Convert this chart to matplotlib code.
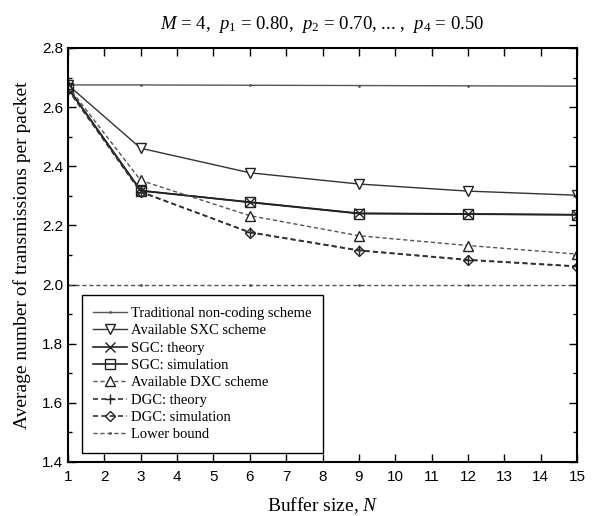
import matplotlib
matplotlib.use('Agg')
import matplotlib.pyplot as plt
from matplotlib.ticker import MultipleLocator

plt.rcParams['mathtext.fontset'] = 'custom'
plt.rcParams['mathtext.rm'] = 'Liberation Serif'
plt.rcParams['mathtext.it'] = 'Liberation Serif:italic'

N = [1, 3, 6, 9, 12, 15]
traditional = [2.675, 2.675, 2.674, 2.673, 2.672, 2.671]
sxc = [2.675, 2.461, 2.378, 2.340, 2.316, 2.302]
sgc_theory = [2.665, 2.317, 2.279, 2.241, 2.239, 2.236]
sgc_sim = [2.665, 2.318, 2.278, 2.240, 2.238, 2.236]
dxc = [2.670, 2.352, 2.233, 2.165, 2.132, 2.103]
dgc_theory = [2.660, 2.313, 2.177, 2.116, 2.084, 2.062]
dgc_sim = [2.660, 2.314, 2.176, 2.115, 2.083, 2.061]
lower = [2.0, 2.0, 2.0, 2.0, 2.0, 2.0]

labels = ['Traditional non-coding scheme', 'Available SXC scheme', 'SGC: theory',
          'SGC: simulation', 'Available DXC scheme', 'DGC: theory',
          'DGC: simulation', 'Lower bound']
xticks = list(range(1, 16))
yticks = [1.4, 1.6, 1.8, 2.0, 2.2, 2.4, 2.6, 2.8]

serif = 'Liberation Serif'
sans = 'Liberation Sans'

fig = plt.figure(figsize=(6.11, 5.16), dpi=100)
ax = fig.add_axes([0.1113, 0.1047, 0.8331, 0.8023])

ms = 7.5
ax.plot(N, traditional, '-', color='#555555', lw=1.0, marker='.', ms=2, label=labels[0])
ax.plot(N, sxc, '-', color='#333333', lw=1.0, marker='v', ms=ms, mfc='white', mec='#222222', label=labels[1])
ax.plot(N, sgc_theory, '-', color='#222222', lw=1.2, marker='x', ms=ms, mec='#222222', label=labels[2])
ax.plot(N, sgc_sim, '-', color='#222222', lw=1.2, marker='s', ms=6.5, mfc='none', mec='#222222', label=labels[3])
ax.plot(N, dxc, '--', color='#555555', lw=1.0, dashes=(3, 2), marker='^', ms=ms, mfc='white', mec='#222222', label=labels[4])
ax.plot(N, dgc_theory, '--', color='#333333', lw=1.2, dashes=(3, 2), marker='+', ms=ms, mec='#222222', label=labels[5])
ax.plot(N, dgc_sim, '--', color='#333333', lw=1.2, dashes=(3, 2), marker='D', ms=5.5, mfc='none', mec='#222222', label=labels[6])
ax.plot(N, lower, '--', color='#555555', lw=1.0, dashes=(3, 2), marker='.', ms=2, label=labels[7])

ax.set_xlim(1, 15)
ax.set_ylim(1.4, 2.8)
ax.set_xticks(xticks)
ax.set_xticklabels([str(v) for v in xticks], fontfamily=sans)
ax.set_yticks(yticks)
ax.set_yticklabels(['%.1f' % v for v in yticks], fontfamily=sans)
ax.yaxis.set_minor_locator(MultipleLocator(0.1))
ax.tick_params(which='both', direction='in', top=True, right=True, width=1.0)
ax.tick_params(which='major', length=6, labelsize=11)
ax.tick_params(axis='x', which='major', pad=6)
ax.tick_params(which='minor', length=3)
for s in ax.spines.values():
    s.set_linewidth(1.5)

ax.set_xlabel('Buffer size, $N$', fontfamily=serif, fontsize=14, labelpad=8)
ax.set_ylabel('Average number of transmissions per packet', fontfamily=serif, fontsize=14, labelpad=8)
ax.set_title('$M$ = 4,  $p_1$ = 0.80,  $p_2$ = 0.70, ... ,  $p_4$ = 0.50',
             fontfamily=serif, fontsize=13.5, pad=14)

leg = ax.legend(loc='lower left', bbox_to_anchor=(0.027, 0.022), prop={'family': serif, 'size': 10.5},
                fancybox=False, edgecolor='black', framealpha=1, handlelength=2.3,
                labelspacing=0.28, borderpad=0.8, handletextpad=0.3, borderaxespad=0)
leg.get_frame().set_linewidth(1.0)

fig.savefig('out.png', dpi=100)
